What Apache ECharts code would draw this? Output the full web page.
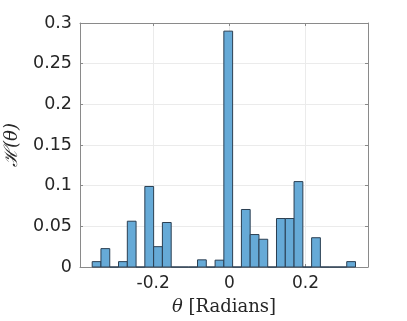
<!DOCTYPE html>
<html>
<head>
  <meta charset="UTF-8">
  <title>histogram</title>
  <script src="https://cdn.jsdelivr.net/npm/echarts@6.0.0/dist/echarts.min.js"></script>
  <style>
    html, body { margin: 0; padding: 0; background: #fff; }
    #main { width: 407px; height: 321px; }
  </style>
</head>
<body>
  <div id="main"></div>
  <script type="text/javascript">
    // bin edges (radians) and bin heights
    var binEdges = [
      -0.3600, -0.3370, -0.3139, -0.2909, -0.2678, -0.2448, -0.2218, -0.1987,
      -0.1757, -0.1526, -0.1296, -0.1066, -0.0835, -0.0605, -0.0374, -0.0144,
      0.0086, 0.0317, 0.0547, 0.0778, 0.1008, 0.1238, 0.1469, 0.1699,
      0.1930, 0.2160, 0.2390, 0.2621, 0.2851, 0.3082, 0.3312
    ];
    var binHeights = [
      0.0066, 0.0226, 0, 0.0066, 0.0563, 0, 0.0990, 0.0250,
      0.0547, 0, 0, 0, 0.0088, 0, 0.0084, 0.2900,
      0, 0.0707, 0.0399, 0.0341, 0, 0.0596, 0.0596, 0.1050,
      0, 0.0360, 0, 0, 0, 0.0066
    ];
    var xTicks = [-0.2, 0, 0.2];
    var yTicks = [0, 0.05, 0.1, 0.15, 0.2, 0.25, 0.3];

    var bins = [];
    for (var i = 0; i < binHeights.length; i++) {
      bins.push([binEdges[i], binEdges[i + 1], binHeights[i]]);
    }

    var axisGray = '#8a8a8a';
    var textGray = '#262626';
    var gridGray = '#ebebeb';

    var myChart = echarts.init(document.getElementById('main'));

    var option = {
      animation: false,
      grid: { left: 80, right: 39, top: 23, bottom: 54, outerBoundsMode: 'none', containLabel: false },
      xAxis: [{
        type: 'value',
        min: -0.392,
        max: 0.364,
        axisLine: { show: true, onZero: false, lineStyle: { color: axisGray, width: 1 } },
        axisTick: { show: true, inside: true, length: 3, customValues: xTicks, lineStyle: { color: axisGray } },
        axisLabel: {
          customValues: xTicks,
          color: textGray, fontSize: 17, fontFamily: 'DejaVu Sans', margin: 8,
          formatter: function (v) { return v === 0 ? '0' : String(v); }
        },
        splitLine: { show: true, lineStyle: { color: gridGray } },
        name: '{i|θ} [Radians]',
        nameLocation: 'middle',
        nameGap: 31,
        nameTextStyle: {
          color: textGray, fontSize: 18, fontFamily: 'DejaVu Serif',
          rich: { i: { fontStyle: 'italic', fontSize: 18, fontFamily: 'DejaVu Serif', color: textGray } }
        }
      }, {
        type: 'value',
        position: 'top',
        min: -0.392,
        max: 0.364,
        axisLine: { show: true, onZero: false, lineStyle: { color: axisGray, width: 1 } },
        axisTick: { show: true, inside: true, length: 3, customValues: xTicks, lineStyle: { color: axisGray } },
        axisLabel: { show: false },
        splitLine: { show: false }
      }],
      yAxis: [{
        type: 'value',
        min: 0,
        max: 0.3,
        interval: 0.05,
        axisLine: { show: true, onZero: false, lineStyle: { color: axisGray, width: 1 } },
        axisTick: { show: true, inside: true, length: 3, lineStyle: { color: axisGray } },
        axisLabel: { color: textGray, fontSize: 17.5, fontFamily: 'DejaVu Sans', margin: 8 },
        splitLine: { show: true, lineStyle: { color: gridGray } },
        name: 'ℋ({i|θ})',
        nameLocation: 'middle',
        nameRotate: 90,
        nameGap: 59,
        nameTextStyle: {
          color: textGray, fontSize: 18, fontFamily: 'DejaVu Serif', fontStyle: 'italic',
          rich: { i: { fontStyle: 'italic', fontSize: 18, fontFamily: 'DejaVu Serif', color: textGray } }
        }
      }, {
        type: 'value',
        position: 'right',
        min: 0,
        max: 0.3,
        interval: 0.05,
        axisLine: { show: true, onZero: false, lineStyle: { color: axisGray, width: 1 } },
        axisTick: { show: true, inside: true, length: 3, lineStyle: { color: axisGray } },
        axisLabel: { show: false },
        splitLine: { show: false }
      }],
      series: [{
        type: 'custom',
        xAxisIndex: 0,
        yAxisIndex: 0,
        data: bins,
        renderItem: function (params, api) {
          var p0 = api.coord([api.value(0), api.value(2)]);
          var p1 = api.coord([api.value(1), 0]);
          return {
            type: 'rect',
            shape: { x: p0[0], y: p0[1], width: p1[0] - p0[0], height: p1[1] - p0[1] },
            style: { fill: '#66aad7', stroke: '#2b3f52', lineWidth: 1 }
          };
        }
      }]
    };

    myChart.setOption(option);
  </script>
</body>
</html>
